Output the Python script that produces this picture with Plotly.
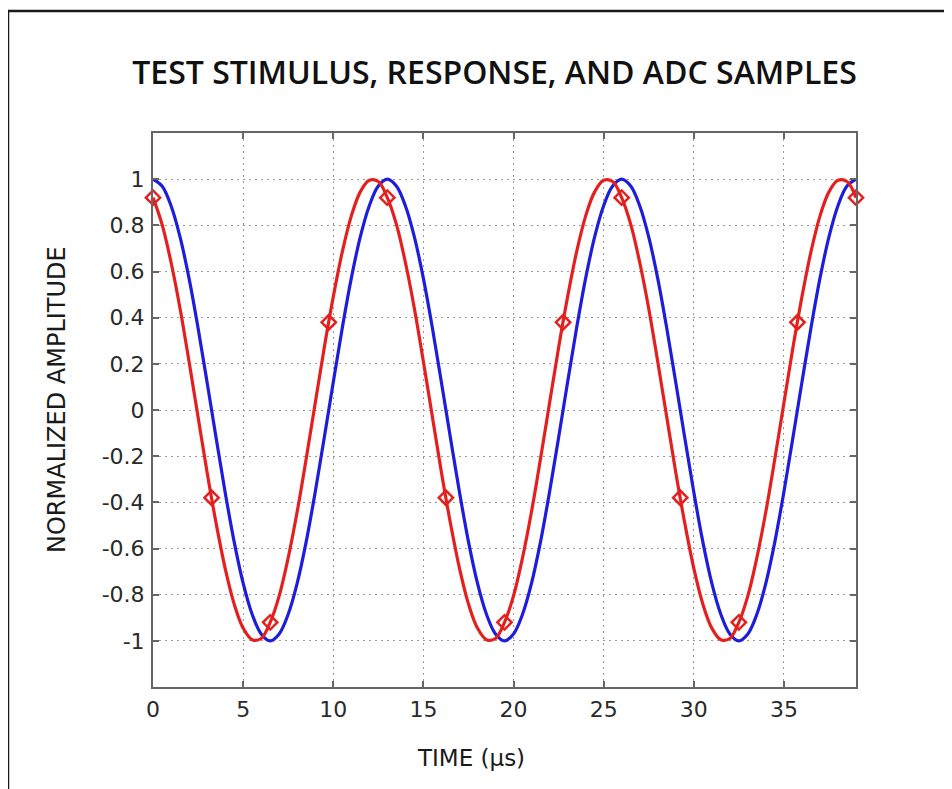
import plotly.graph_objects as go

# Time axis (µs), sampled every 0.5 µs
time_us = [0.0, 0.5, 1.0, 1.5, 2.0, 2.5, 3.0, 3.5, 4.0, 4.5, 5.0, 5.5, 6.0, 6.5, 7.0, 7.5,
           8.0, 8.5, 9.0, 9.5, 10.0, 10.5, 11.0, 11.5, 12.0, 12.5, 13.0, 13.5, 14.0, 14.5,
           15.0, 15.5, 16.0, 16.5, 17.0, 17.5, 18.0, 18.5, 19.0, 19.5, 20.0, 20.5, 21.0,
           21.5, 22.0, 22.5, 23.0, 23.5, 24.0, 24.5, 25.0, 25.5, 26.0, 26.5, 27.0, 27.5,
           28.0, 28.5, 29.0, 29.5, 30.0, 30.5, 31.0, 31.5, 32.0, 32.5, 33.0, 33.5, 34.0,
           34.5, 35.0, 35.5, 36.0, 36.5, 37.0, 37.5, 38.0, 38.5, 39.0]

# Blue curve (test stimulus)
stimulus = [1.00, 0.97, 0.885, 0.75, 0.57, 0.355, 0.12, -0.12, -0.355, -0.57, -0.75, -0.885, -0.97,
            -1.00, -0.97, -0.885, -0.75, -0.57, -0.355, -0.12, 0.12, 0.355, 0.57, 0.75, 0.885, 0.97,
            1.00, 0.97, 0.885, 0.75, 0.57, 0.355, 0.12, -0.12, -0.355, -0.57, -0.75, -0.885, -0.97,
            -1.00, -0.97, -0.885, -0.75, -0.57, -0.355, -0.12, 0.12, 0.355, 0.57, 0.75, 0.885, 0.97,
            1.00, 0.97, 0.885, 0.75, 0.57, 0.355, 0.12, -0.12, -0.355, -0.57, -0.75, -0.885, -0.97,
            -1.00, -0.97, -0.885, -0.75, -0.57, -0.355, -0.12, 0.12, 0.355, 0.57, 0.75, 0.885, 0.97,
            1.00]

# Red curve (response)
response = [0.92, 0.805, 0.64, 0.44, 0.21, -0.03, -0.27, -0.49, -0.685, -0.84, -0.945, -0.995, -0.99,
            -0.92, -0.805, -0.64, -0.44, -0.21, 0.03, 0.27, 0.49, 0.685, 0.84, 0.945, 0.995, 0.99,
            0.92, 0.805, 0.64, 0.44, 0.21, -0.03, -0.27, -0.49, -0.685, -0.84, -0.945, -0.995, -0.99,
            -0.92, -0.805, -0.64, -0.44, -0.21, 0.03, 0.27, 0.49, 0.685, 0.84, 0.945, 0.995, 0.99,
            0.92, 0.805, 0.64, 0.44, 0.21, -0.03, -0.27, -0.49, -0.685, -0.84, -0.945, -0.995, -0.99,
            -0.92, -0.805, -0.64, -0.44, -0.21, 0.03, 0.27, 0.49, 0.685, 0.84, 0.945, 0.995, 0.99,
            0.92]

# ADC samples
sample_t = [0.0, 3.25, 6.5, 9.75, 13.0, 16.25, 19.5, 22.75, 26.0, 29.25, 32.5, 35.75, 39.0]
sample_v = [0.92, -0.38, -0.92, 0.38, 0.92, -0.38, -0.92, 0.38, 0.92, -0.38, -0.92, 0.38, 0.92]

x_ticks = [0, 5, 10, 15, 20, 25, 30, 35]
y_ticks = [-1, -0.8, -0.6, -0.4, -0.2, 0, 0.2, 0.4, 0.6, 0.8, 1]
y_labels = ["-1", "-0.8", "-0.6", "-0.4", "-0.2", "0", "0.2", "0.4", "0.6", "0.8", "1"]

RED = "#e4201f"
BLUE = "#1d1ddb"
TITLE_FONT = "Open Sans"
FONT = "DejaVu Sans"

fig = go.Figure()
fig.add_trace(go.Scatter(x=time_us, y=stimulus, mode="lines", line=dict(color=BLUE, width=3.2, shape="spline"),
                         showlegend=False, cliponaxis=False))
fig.add_trace(go.Scatter(x=time_us, y=response, mode="lines", line=dict(color=RED, width=3.2, shape="spline"),
                         showlegend=False, cliponaxis=False))
fig.add_trace(go.Scatter(x=sample_t, y=sample_v, mode="markers",
                         marker=dict(symbol="diamond-open", size=11, color=RED, line=dict(color=RED, width=2.5)),
                         showlegend=False, cliponaxis=False))

# page body has an 8px margin: figure occupies window pixels 8..952 x 8..789
OFF = 8
W, H = 952 - OFF, 789 - OFF
L, T = 153 - OFF, 133 - OFF
R = W - (856 - OFF)
B = H - (687 - OFF)
pw, ph = W - L - R, H - T - B

def px(x):  # window x pixel -> paper
    return (x - OFF - L) / pw

def py(y):  # window y pixel -> paper
    return (H - B - (y - OFF)) / ph

axis_common = dict(
    showline=True, linecolor="#666666", linewidth=2, mirror="ticks",
    ticks="inside", ticklen=6, tickwidth=1.5, tickcolor="#666666",
    showgrid=True, gridcolor="#9a9a9a", gridwidth=1.4, griddash="2px,4px",
    zeroline=False,
    tickfont=dict(family=FONT, size=22, color="#2a2a2a"),
)

fig.update_xaxes(range=[0, 39], tickvals=x_ticks, ticktext=[str(v) for v in x_ticks], ticklabelstandoff=2,
                 **axis_common)
fig.update_yaxes(range=[-1.2, 1.2], tickvals=y_ticks, ticktext=y_labels, ticklabelstandoff=2, **axis_common)

fig.update_layout(
    width=W, height=H,
    margin=dict(l=L, r=R, t=T, b=B, autoexpand=False),
    paper_bgcolor="white", plot_bgcolor="white",
    title=dict(text="TEST STIMULUS, RESPONSE, AND ADC SAMPLES",
               font=dict(family=TITLE_FONT, size=32, color="#111111", weight=600),
               x=px(494.5), xref="paper", xanchor="center",
               y=1 - (73 - OFF) / H, yref="container", yanchor="middle"),
    annotations=[
        dict(text="TIME (µs)", x=px(471), y=py(758), xref="paper", yref="paper",
             xanchor="center", yanchor="middle", showarrow=False,
             font=dict(family=FONT, size=23, color="#1a1a1a")),
        dict(text="NORMALIZED AMPLITUDE", x=px(57), y=py(399), xref="paper", yref="paper",
             xanchor="center", yanchor="middle", showarrow=False, textangle=-90,
             font=dict(family=FONT, size=24, color="#1a1a1a")),
    ],
    shapes=[
        dict(type="rect", xref="paper", yref="paper",
             x0=px(8), x1=px(1000), y0=py(850), y1=py(11),
             line=dict(color="#1a1a1a", width=2.5), fillcolor="rgba(0,0,0,0)", layer="below"),
    ],
)

fig.write_html("out.html")
